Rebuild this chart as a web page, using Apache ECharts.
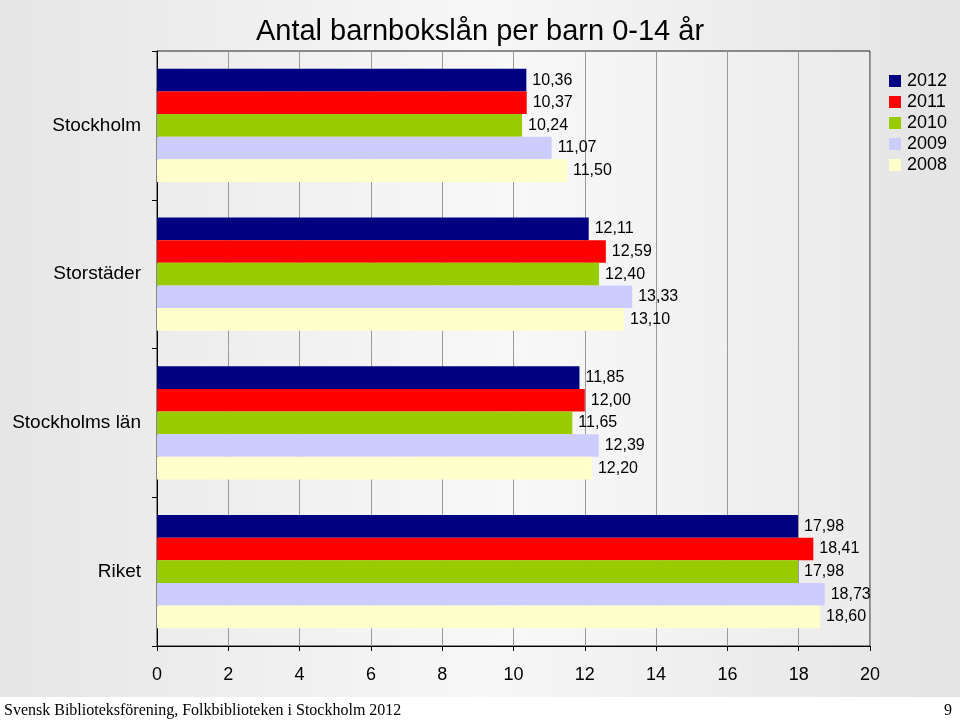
<!DOCTYPE html>
<html>
<head>
<meta charset="utf-8">
<script src="https://cdn.jsdelivr.net/npm/echarts@6/dist/echarts.min.js"></script>
<style>
  html, body { margin: 0; padding: 0; }
  #chart { width: 960px; height: 725px; }
</style>
</head>
<body>
<div id="chart"></div>
<script>
const categories = ["Stockholm", "Storstäder", "Stockholms län", "Riket"];
const years = ["2012", "2011", "2010", "2009", "2008"];
const colors = ["#000080", "#ff0000", "#99cc00", "#ccccff", "#ffffcc"];
const values2012 = [10.36, 12.11, 11.85, 17.98];
const values2011 = [10.37, 12.59, 12.00, 18.41];
const values2010 = [10.24, 12.40, 11.65, 17.98];
const values2009 = [11.07, 13.33, 12.39, 18.73];
const values2008 = [11.50, 13.10, 12.20, 18.60];
const xTicks = [0, 2, 4, 6, 8, 10, 12, 14, 16, 18, 20];

const seriesValues = [values2012, values2011, values2010, values2009, values2008];
const font = "'Liberation Sans', Arial, sans-serif";

const chart = echarts.init(document.getElementById("chart"));

const series = years.map((y, i) => ({
  name: y,
  type: "bar",
  data: seriesValues[i],
  barGap: "0%",
  barCategoryGap: "24%",
  itemStyle: {color: colors[i]},
  label: {
    show: true,
    position: "right",
    distance: 6,
    color: "#000",
    fontFamily: font,
    fontSize: 16,
    formatter: (p) => p.value.toFixed(2).replace(".", ",")
  }
}));

chart.setOption({
  animation: false,
  backgroundColor: {
    type: "linear", x: 0, y: 0, x2: 1, y2: 0,
    colorStops: [
      {offset: 0, color: "#e6e6e6"},
      {offset: 0.5, color: "#f7f7f7"},
      {offset: 1, color: "#e4e4e4"}
    ]
  },
  title: {
    text: "Antal barnbokslån per barn 0-14 år",
    left: "center",
    top: 12,
    textStyle: {fontFamily: font, fontSize: 29, fontWeight: "normal", color: "#000"}
  },
  legend: {
    orient: "vertical",
    left: 884,
    top: 67,
    itemWidth: 12,
    itemHeight: 12,
    itemGap: 3,
    icon: "rect",
    data: years,
    textStyle: {fontFamily: font, fontSize: 18, color: "#000", padding: [0, 0, 0, 1]}
  },
  grid: {
    left: 157,
    right: 90,
    top: 51,
    bottom: 79,
    show: true,
    borderColor: "#222",
    borderWidth: 1,
    backgroundColor: {
      type: "linear", x: 0, y: 0, x2: 1, y2: 0,
      colorStops: [
        {offset: 0, color: "#ececec"},
        {offset: 0.5, color: "#f8f8f8"},
        {offset: 1, color: "#ebebeb"}
      ]
    }
  },
  xAxis: {
    type: "value",
    min: xTicks[0],
    max: xTicks[xTicks.length - 1],
    interval: 2,
    axisLine: {show: true, lineStyle: {color: "#000"}},
    axisTick: {show: true, length: 5, lineStyle: {color: "#000"}},
    splitLine: {show: true, lineStyle: {color: "#999", width: 1}},
    axisLabel: {fontFamily: font, fontSize: 18, color: "#000", margin: 20}
  },
  yAxis: {
    type: "category",
    data: categories,
    inverse: true,
    axisLine: {show: true, lineStyle: {color: "#000"}},
    axisTick: {show: true, length: 5, lineStyle: {color: "#000"}},
    axisLabel: {fontFamily: font, fontSize: 19, color: "#000", margin: 16}
  },
  series: series,
  graphic: [
    {
      type: "rect",
      left: 0,
      top: 697,
      shape: {width: 960, height: 28},
      style: {fill: "#fff"}
    },
    {
      type: "text",
      left: 4,
      top: 703,
      style: {
        text: "Svensk Biblioteksförening, Folkbiblioteken i Stockholm 2012",
        font: "16px 'Liberation Serif', 'Times New Roman', serif",
        fill: "#000"
      }
    },
    {
      type: "text",
      right: 8,
      top: 703,
      style: {
        text: "9",
        font: "16px 'Liberation Serif', 'Times New Roman', serif",
        fill: "#000"
      }
    }
  ]
});
</script>
</body>
</html>
